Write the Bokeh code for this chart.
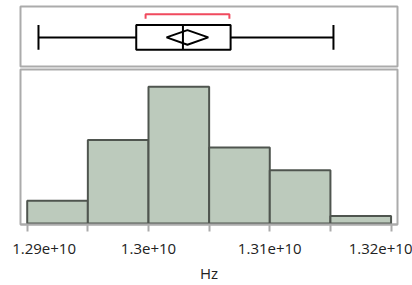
from bokeh.plotting import figure
from bokeh.layouts import column
from bokeh.models import Range1d, FixedTicker
from bokeh.embed import file_html
from bokeh.resources import INLINE

# ---- data ----
bin_edges = [1.290e10, 1.295e10, 1.300e10, 1.305e10, 1.310e10, 1.315e10, 1.320e10]
counts = [3, 11, 18, 10, 7, 1]

whisker_lo = 1.29093e10
q1 = 1.29899e10
median = 1.30284e10
q3 = 1.30677e10
whisker_hi = 1.31525e10
mean = 1.30321e10
mean_ci_lo = 1.30149e10
mean_ci_hi = 1.30493e10
shortest_half = [1.29976e10, 1.30667e10]

tick_values = [1.29e10, 1.30e10, 1.31e10, 1.32e10]
tick_labels = ["1.29e+10", "1.3e+10", "1.31e+10", "1.32e+10"]
minor_tick_values = [1.295e10, 1.305e10, 1.315e10]
x_label = "Hz"

FRAME = "#ABABAB"
FONT = "Open Sans"

xr = Range1d(1.289447e10, 1.32053e10)

# ---- box plot panel ----
bp = figure(width=412, height=68, x_range=xr, y_range=Range1d(0, 1),
            output_backend="svg", toolbar_location=None,
            x_axis_location=None, y_axis_location=None,
            min_border_left=20, min_border_right=15, min_border_top=6, min_border_bottom=2)
bp.grid.visible = False
bp.outline_line_color = FRAME
bp.outline_line_width = 2

yc = 0.485
bh = 0.205
dh = 0.122
bp.segment(x0=[whisker_lo, q3], y0=[yc, yc], x1=[q1, whisker_hi], y1=[yc, yc],
           line_color="black", line_width=2)
bp.segment(x0=[whisker_lo, whisker_hi], y0=[yc - bh, yc - bh], x1=[whisker_lo, whisker_hi],
           y1=[yc + bh, yc + bh], line_color="black", line_width=2)
bp.quad(left=[q1], right=[q3], bottom=[yc - bh], top=[yc + bh],
        fill_color="white", line_color="black", line_width=2)
bp.segment(x0=[median], y0=[yc - bh], x1=[median], y1=[yc + bh], line_color="black", line_width=2)
bp.patch(x=[mean_ci_lo, mean, mean_ci_hi, mean, mean_ci_lo],
         y=[yc, yc + dh, yc, yc - dh, yc],
         fill_color=None, line_color="black", line_width=2)
bp.line(x=[shortest_half[0], shortest_half[0], shortest_half[1], shortest_half[1]],
        y=[0.795, 0.872, 0.872, 0.795], line_color="#F04A5E", line_width=2)

# ---- histogram panel ----
hp = figure(width=412, height=217, x_range=xr, y_range=Range1d(-0.13, 20.26),
            output_backend="svg", toolbar_location=None, y_axis_location=None,
            min_border_left=20, min_border_right=15, min_border_top=1, min_border_bottom=0)
hp.grid.visible = False
hp.outline_line_color = FRAME
hp.outline_line_width = 2

hp.quad(left=bin_edges[:-1], right=bin_edges[1:], bottom=0, top=counts,
        fill_color="#BCCABC", line_color="#4F554F", line_width=2)

ax = hp.xaxis[0]
ax.ticker = FixedTicker(ticks=tick_values, minor_ticks=minor_tick_values)
overrides = {}
for i, (v, t) in enumerate(zip(tick_values, tick_labels)):
    if i == 0:
        t = "\u00a0" * 3 + t
    overrides[v] = t
ax.major_label_overrides = overrides
ax.axis_line_color = FRAME
ax.axis_line_width = 2
ax.major_tick_line_color = FRAME
ax.major_tick_line_width = 2
ax.minor_tick_line_color = FRAME
ax.minor_tick_line_width = 2
ax.major_tick_out = 7
ax.major_tick_in = 0
ax.minor_tick_out = 7
ax.minor_tick_in = 0
ax.major_label_text_font = FONT
ax.major_label_text_font_size = "15px"
ax.major_label_text_color = "#222222"
ax.major_label_standoff = 6
ax.axis_label = x_label
ax.axis_label_text_font = FONT
ax.axis_label_text_font_size = "15px"
ax.axis_label_text_font_style = "normal"
ax.axis_label_text_color = "#222222"
ax.axis_label_standoff = 2

layout = column(bp, hp, spacing=0)

with open("out.html", "w") as f:
    f.write(file_html(layout, INLINE))
